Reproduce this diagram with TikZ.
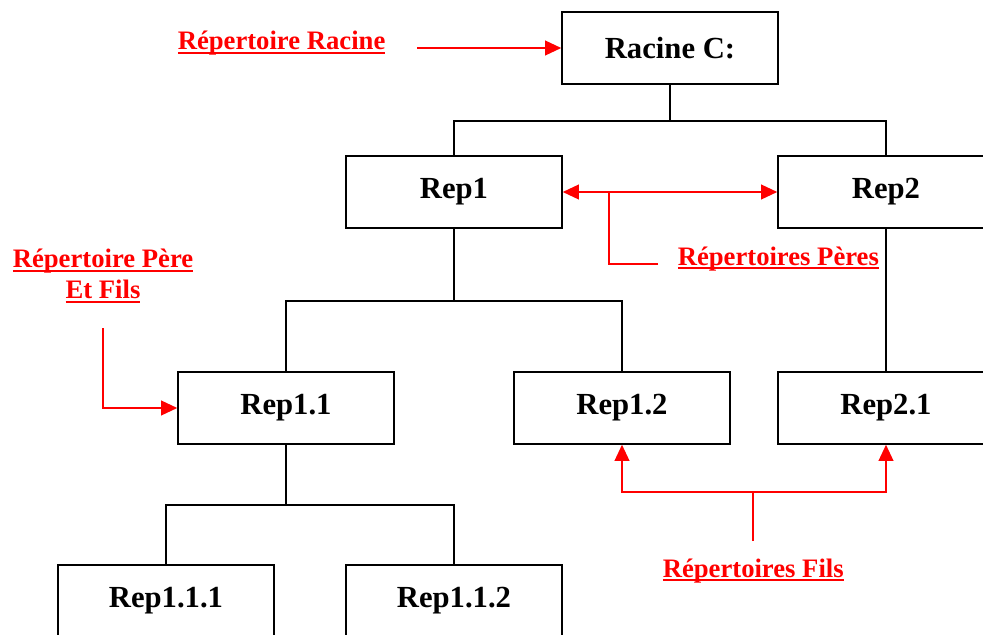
\documentclass[tikz,border=0pt]{standalone}
\usepackage{fontspec}
\setmainfont{Liberation Serif}
\usepackage{tikz}
\usetikzlibrary{arrows.meta}

% souligne epais sous les etiquettes rouges
\newcommand{\souligne}[1]{\setbox0\hbox{#1}\rlap{\rule[-3.3pt]{\wd0}{1.6pt}}\box0}

\begin{document}
\begin{tikzpicture}[x=0.75pt, y=-0.75pt, >={Triangle[length=12pt,width=11pt]}, line width=1.15pt]
  \tikzstyle{rep}=[draw, minimum width=162pt, minimum height=54pt, inner sep=0pt, font=\fontsize{23}{27}\selectfont\bfseries]
  \tikzstyle{lbl}=[red, inner sep=0pt, font=\fontsize{20}{23}\selectfont\bfseries]
  \tikzstyle{fleche}=[red, line width=1.2pt]
  \useasboundingbox (0,0) rectangle (983,635);
  \clip (0,0) rectangle (983,635);

  % arborescence
  \node[rep] (racine) at (670,48) {Racine C:};
  \node[rep] (rep1) at (454,192) {Rep1};
  \node[rep] (rep2) at (886,192) {Rep2};
  \node[rep] (rep11) at (286,408) {Rep1.1};
  \node[rep] (rep12) at (622,408) {Rep1.2};
  \node[rep] (rep21) at (886,408) {Rep2.1};
  \node[rep] (rep111) at (166,601) {Rep1.1.1};
  \node[rep] (rep112) at (454,601) {Rep1.1.2};

  \draw (racine.south) -- ++(0,36) coordinate (j0);
  \draw (j0) -| (rep1.north);
  \draw (j0) -| (rep2.north);
  \draw (rep1.south) -- ++(0,72) coordinate (j1);
  \draw (j1) -| (rep11.north);
  \draw (j1) -| (rep12.north);
  \draw (rep2.south) -- (rep21.north);
  \draw (rep11.south) -- ++(0,60) coordinate (j2);
  \draw (j2) -| (rep111.north);
  \draw (j2) -| (rep112.north);

  % etiquettes
  \node[lbl, anchor=base west] (lracine) at (177,50) {\souligne{Répertoire Racine}};
  \node[lbl, anchor=base west] (lperes) at (677,265) {\souligne{Répertoires Pères}};
  \node[lbl, align=center] (lperefils) at (103,276) {\souligne{Répertoire Père}\\\souligne{Et Fils}};
  \node[lbl, anchor=base west] (lfils) at (662,577) {\souligne{Répertoires Fils}};

  % fleches rouges
  \coordinate (racineTail) at (417,48);
  \draw[fleche, ->] (racineTail) -- (racine.west);

  \draw[fleche, <->] (rep1.east) -- (rep2.west);
  \coordinate (peresJoin) at (609,192);
  \coordinate (peresTail) at (658,264);
  \draw[fleche] (peresTail) -| (peresJoin);

  \coordinate (pfTail) at (103,328);
  \draw[fleche, ->] (pfTail) |- (rep11.west);

  \coordinate (filsTail) at (753,541);
  \coordinate (filsJoin) at (753,492);
  \draw[fleche] (filsTail) -- (filsJoin);
  \draw[fleche, ->] (filsJoin) -| (rep12.south);
  \draw[fleche, ->] (filsJoin) -| (rep21.south);
\end{tikzpicture}
\end{document}
